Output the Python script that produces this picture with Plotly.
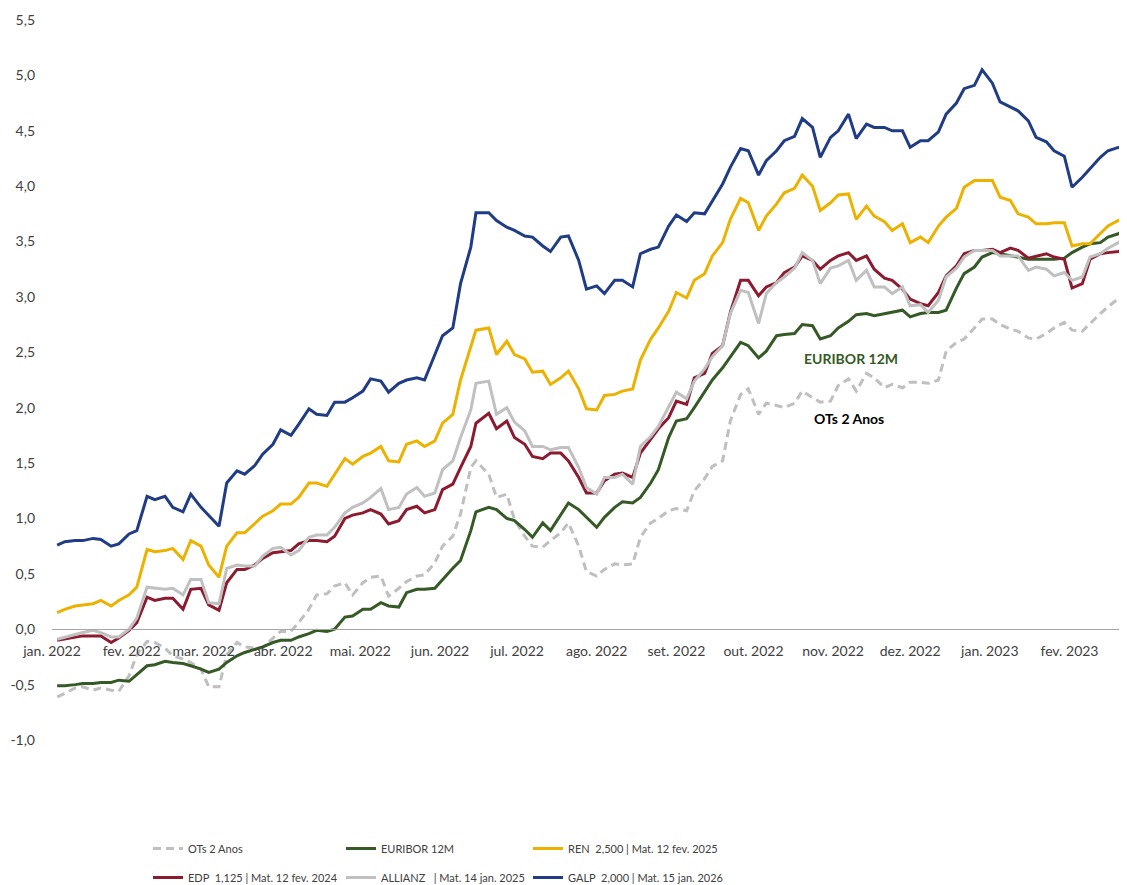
import plotly.graph_objects as go

# ---------------- data (~2 points per week) ----------------
dates = (
    ["2022-01-03", "2022-01-06", "2022-01-10", "2022-01-13", "2022-01-17", "2022-01-20", "2022-01-24", "2022-01-27", "2022-01-31"]
    + ["2022-02-03", "2022-02-07", "2022-02-10", "2022-02-14", "2022-02-17", "2022-02-21", "2022-02-24", "2022-02-28"]
    + ["2022-03-03", "2022-03-07", "2022-03-10", "2022-03-14", "2022-03-17", "2022-03-21", "2022-03-24", "2022-03-28", "2022-03-31"]
    + ["2022-04-04", "2022-04-07", "2022-04-11", "2022-04-14", "2022-04-18", "2022-04-21", "2022-04-25", "2022-04-28"]
    + ["2022-05-02", "2022-05-05", "2022-05-09", "2022-05-12", "2022-05-16", "2022-05-19", "2022-05-23", "2022-05-26", "2022-05-30"]
    + ["2022-06-02", "2022-06-06", "2022-06-09", "2022-06-13", "2022-06-15", "2022-06-20", "2022-06-23", "2022-06-27", "2022-06-30"]
    + ["2022-07-04", "2022-07-07", "2022-07-11", "2022-07-14", "2022-07-18", "2022-07-21", "2022-07-25", "2022-07-28"]
    + ["2022-08-01", "2022-08-04", "2022-08-08", "2022-08-11", "2022-08-15", "2022-08-18", "2022-08-22", "2022-08-25", "2022-08-29"]
    + ["2022-09-01", "2022-09-05", "2022-09-08", "2022-09-12", "2022-09-15", "2022-09-19", "2022-09-22", "2022-09-26", "2022-09-29"]
    + ["2022-10-03", "2022-10-06", "2022-10-10", "2022-10-13", "2022-10-17", "2022-10-20", "2022-10-24", "2022-10-27", "2022-10-31"]
    + ["2022-11-03", "2022-11-07", "2022-11-10", "2022-11-14", "2022-11-17", "2022-11-21", "2022-11-24", "2022-11-28"]
    + ["2022-12-01", "2022-12-05", "2022-12-08", "2022-12-12", "2022-12-15", "2022-12-19", "2022-12-22", "2022-12-26", "2022-12-29"]
    + ["2023-01-02", "2023-01-05", "2023-01-09", "2023-01-12", "2023-01-16", "2023-01-19", "2023-01-23", "2023-01-26", "2023-01-30"]
    + ["2023-02-02", "2023-02-06", "2023-02-09", "2023-02-13", "2023-02-16", "2023-02-20", "2023-02-23"]
)

ots_2_anos = (
    [-0.61, -0.58, -0.53, -0.52, -0.55, -0.53, -0.55, -0.56, -0.42]
    + [-0.23, -0.11, -0.12, -0.17, -0.24, -0.27, -0.30, -0.36]
    + [-0.52, -0.52, -0.23, -0.12, -0.16, -0.17, -0.17, -0.08, -0.02]
    + [-0.02, 0.06, 0.18, 0.31, 0.32, 0.39, 0.42, 0.31]
    + [0.42, 0.47, 0.48, 0.30, 0.37, 0.43, 0.48, 0.49, 0.60]
    + [0.75, 0.84, 1.04, 1.46, 1.52, 1.40, 1.19, 1.22, 0.99]
    + [0.84, 0.75, 0.74, 0.80, 0.87, 0.96, 0.75, 0.52]
    + [0.48, 0.54, 0.59, 0.58, 0.59, 0.83, 0.96, 1.00, 1.07]
    + [1.09, 1.07, 1.25, 1.36, 1.47, 1.52, 1.88, 2.12, 2.17]
    + [1.94, 2.04, 2.02, 2.00, 2.04, 2.15, 2.09, 2.05, 2.06]
    + [2.20, 2.26, 2.15, 2.31, 2.27, 2.18, 2.21, 2.18]
    + [2.23, 2.23, 2.22, 2.25, 2.51, 2.59, 2.62, 2.72, 2.80]
    + [2.80, 2.75, 2.71, 2.69, 2.63, 2.62, 2.67, 2.72, 2.77]
    + [2.70, 2.69, 2.76, 2.85, 2.91, 2.98, 3.04]
)

euribor_12m = (
    [-0.51, -0.51, -0.50, -0.49, -0.49, -0.48, -0.48, -0.46, -0.47]
    + [-0.41, -0.33, -0.32, -0.29, -0.30, -0.31, -0.33, -0.36]
    + [-0.39, -0.36, -0.30, -0.24, -0.21, -0.18, -0.16, -0.12, -0.10]
    + [-0.10, -0.07, -0.04, -0.01, -0.02, 0.00, 0.11, 0.12]
    + [0.18, 0.18, 0.24, 0.21, 0.20, 0.33, 0.36, 0.36, 0.37]
    + [0.45, 0.55, 0.62, 0.89, 1.06, 1.10, 1.08, 1.00, 0.98]
    + [0.90, 0.83, 0.96, 0.89, 1.04, 1.14, 1.08, 1.01]
    + [0.92, 1.01, 1.10, 1.15, 1.14, 1.19, 1.32, 1.44, 1.73]
    + [1.88, 1.90, 2.00, 2.15, 2.25, 2.36, 2.46, 2.59, 2.56]
    + [2.45, 2.51, 2.65, 2.66, 2.67, 2.75, 2.74, 2.62, 2.65]
    + [2.72, 2.78, 2.84, 2.85, 2.83, 2.85, 2.86, 2.88]
    + [2.82, 2.85, 2.86, 2.86, 2.88, 3.08, 3.21, 3.27, 3.36]
    + [3.40, 3.39, 3.37, 3.36, 3.34, 3.34, 3.34, 3.34, 3.35]
    + [3.40, 3.45, 3.48, 3.49, 3.54, 3.57, 3.62]
)

ren = (
    [0.15, 0.18, 0.21, 0.22, 0.23, 0.26, 0.21, 0.26, 0.31]
    + [0.38, 0.72, 0.70, 0.71, 0.73, 0.63, 0.80, 0.75]
    + [0.58, 0.47, 0.75, 0.87, 0.87, 0.96, 1.02, 1.07, 1.13]
    + [1.13, 1.19, 1.32, 1.32, 1.29, 1.40, 1.54, 1.49]
    + [1.56, 1.59, 1.65, 1.52, 1.51, 1.67, 1.70, 1.65, 1.70]
    + [1.86, 1.94, 2.25, 2.55, 2.70, 2.72, 2.48, 2.60, 2.48]
    + [2.44, 2.32, 2.33, 2.21, 2.27, 2.33, 2.17, 1.99]
    + [1.98, 2.11, 2.12, 2.15, 2.17, 2.43, 2.62, 2.72, 2.87]
    + [3.04, 2.99, 3.15, 3.21, 3.37, 3.49, 3.70, 3.89, 3.85]
    + [3.60, 3.73, 3.84, 3.94, 3.98, 4.10, 4.00, 3.78, 3.85]
    + [3.92, 3.93, 3.70, 3.82, 3.73, 3.68, 3.60, 3.66]
    + [3.49, 3.54, 3.49, 3.64, 3.72, 3.80, 3.99, 4.05, 4.05]
    + [4.05, 3.90, 3.87, 3.75, 3.72, 3.66, 3.66, 3.67, 3.67]
    + [3.46, 3.48, 3.48, 3.57, 3.64, 3.69, 3.66]
)

edp = (
    [-0.10, -0.09, -0.07, -0.06, -0.06, -0.06, -0.12, -0.08, -0.01]
    + [0.06, 0.29, 0.26, 0.28, 0.28, 0.18, 0.36, 0.37]
    + [0.22, 0.17, 0.42, 0.54, 0.54, 0.58, 0.64, 0.69, 0.70]
    + [0.71, 0.77, 0.80, 0.80, 0.79, 0.84, 1.00, 1.03]
    + [1.05, 1.08, 1.04, 0.95, 0.98, 1.08, 1.11, 1.05, 1.08]
    + [1.26, 1.31, 1.46, 1.65, 1.86, 1.95, 1.81, 1.88, 1.73]
    + [1.67, 1.56, 1.54, 1.59, 1.59, 1.52, 1.37, 1.23]
    + [1.23, 1.34, 1.40, 1.41, 1.37, 1.59, 1.71, 1.81, 1.91]
    + [2.06, 2.03, 2.27, 2.31, 2.49, 2.56, 2.86, 3.15, 3.15]
    + [3.01, 3.09, 3.13, 3.22, 3.27, 3.37, 3.33, 3.25, 3.33]
    + [3.37, 3.40, 3.33, 3.37, 3.25, 3.17, 3.15, 3.07]
    + [2.98, 2.94, 2.92, 3.04, 3.19, 3.28, 3.39, 3.42, 3.42]
    + [3.43, 3.40, 3.44, 3.42, 3.35, 3.37, 3.39, 3.36, 3.34]
    + [3.08, 3.12, 3.34, 3.39, 3.40, 3.41, 3.43]
)

allianz = (
    [-0.09, -0.07, -0.05, -0.03, -0.01, -0.03, -0.07, -0.07, 0.00]
    + [0.10, 0.38, 0.37, 0.36, 0.37, 0.31, 0.45, 0.45]
    + [0.24, 0.23, 0.55, 0.58, 0.57, 0.57, 0.66, 0.73, 0.74]
    + [0.67, 0.71, 0.83, 0.85, 0.85, 0.92, 1.05, 1.10]
    + [1.14, 1.19, 1.27, 1.08, 1.10, 1.22, 1.28, 1.20, 1.23]
    + [1.44, 1.52, 1.73, 1.98, 2.22, 2.24, 1.94, 2.00, 1.87]
    + [1.79, 1.65, 1.65, 1.62, 1.64, 1.64, 1.46, 1.28]
    + [1.22, 1.37, 1.37, 1.40, 1.31, 1.65, 1.74, 1.83, 2.00]
    + [2.14, 2.08, 2.24, 2.35, 2.46, 2.56, 2.85, 3.06, 3.04]
    + [2.76, 3.03, 3.13, 3.18, 3.26, 3.40, 3.33, 3.12, 3.26]
    + [3.28, 3.33, 3.15, 3.24, 3.09, 3.09, 3.03, 3.09]
    + [2.92, 2.93, 2.86, 2.97, 3.18, 3.26, 3.36, 3.42, 3.42]
    + [3.42, 3.37, 3.37, 3.37, 3.24, 3.27, 3.25, 3.19, 3.22]
    + [3.15, 3.18, 3.36, 3.39, 3.44, 3.49, 3.54]
)

galp = (
    [0.76, 0.79, 0.80, 0.80, 0.82, 0.81, 0.75, 0.77, 0.86]
    + [0.89, 1.20, 1.17, 1.20, 1.10, 1.06, 1.22, 1.10]
    + [1.03, 0.93, 1.32, 1.43, 1.40, 1.48, 1.58, 1.67, 1.80]
    + [1.75, 1.85, 1.99, 1.94, 1.93, 2.05, 2.05, 2.09]
    + [2.15, 2.26, 2.24, 2.14, 2.22, 2.25, 2.27, 2.25, 2.47]
    + [2.65, 2.72, 3.12, 3.45, 3.76, 3.76, 3.69, 3.63, 3.60]
    + [3.55, 3.54, 3.46, 3.41, 3.54, 3.55, 3.33, 3.07]
    + [3.10, 3.03, 3.15, 3.15, 3.09, 3.39, 3.43, 3.45, 3.64]
    + [3.74, 3.68, 3.76, 3.75, 3.87, 4.02, 4.17, 4.34, 4.32]
    + [4.10, 4.23, 4.32, 4.41, 4.45, 4.61, 4.53, 4.26, 4.44]
    + [4.50, 4.65, 4.43, 4.56, 4.53, 4.53, 4.50, 4.50]
    + [4.35, 4.41, 4.41, 4.49, 4.65, 4.75, 4.88, 4.91, 5.05]
    + [4.93, 4.76, 4.71, 4.68, 4.59, 4.44, 4.40, 4.32, 4.27]
    + [3.99, 4.08, 4.16, 4.26, 4.32, 4.35, 4.35]
)

month_ticks = [
    "2022-01-01", "2022-02-01", "2022-03-01", "2022-04-01", "2022-05-01",
    "2022-06-01", "2022-07-01", "2022-08-01", "2022-09-01", "2022-10-01",
    "2022-11-01", "2022-12-01", "2023-01-01", "2023-02-01",
]
month_labels = [
    "jan. 2022", "fev. 2022", "mar. 2022", "abr. 2022", "mai. 2022",
    "jun. 2022", "jul. 2022", "ago. 2022", "set. 2022", "out. 2022",
    "nov. 2022", "dez. 2022", "jan. 2023", "fev. 2023",
]

y_ticks = [-1.0, -0.5, 0.0, 0.5, 1.0, 1.5, 2.0, 2.5, 3.0, 3.5, 4.0, 4.5, 5.0, 5.5]
y_labels = ["-1,0", "-0,5", "0,0", "0,5", "1,0", "1,5", "2,0", "2,5",
            "3,0", "3,5", "4,0", "4,5", "5,0", "5,5"]

NB = "\u00a0"
series = [
    # name, values, colour, dash, legend
    ("OTs 2 Anos", ots_2_anos, "#BFBFBF", "8px,5px", "legend"),
    ("EURIBOR 12M", euribor_12m, "#355A25", "solid", "legend2"),
    ("REN" + NB * 2 + "2,500 | Mat. 12 fev. 2025", ren, "#EDB100", "solid", "legend3"),
    ("EDP" + NB * 2 + "1,125 | Mat. 12 fev. 2024", edp, "#8C1B2F", "solid", "legend"),
    ("ALLIANZ" + NB * 3 + "| Mat. 14 jan. 2025", allianz, "#C0C0C0", "solid", "legend2"),
    ("GALP" + NB * 2 + "2,000 | Mat. 15 jan. 2026", galp, "#1F3C84", "solid", "legend3"),
]

FONT = "Lato, 'Open Sans', sans-serif"

fig = go.Figure()
for i, (name, vals, color, dash, leg) in enumerate(series):
    fig.add_trace(go.Scatter(
        x=dates, y=vals, name=name, mode="lines",
        line=dict(color=color, width=3, dash=dash),
        legend=leg, legendgroup="g%d" % i,
        hoverinfo="skip",
    ))

fig.add_annotation(x="2022-11-08", y=2.44, text="<b>EURIBOR 12M</b>", showarrow=False,
                   font=dict(family=FONT, size=14, color="#355A25"))
fig.add_annotation(x="2022-11-07", y=1.90, text="<b>OTs 2 Anos</b>", showarrow=False,
                   font=dict(family=FONT, size=14, color="#000000"))

W, H = 1119, 877
legend_base = dict(
    orientation="v", xref="container", yref="container",
    xanchor="left", yanchor="top", y=1 - 826 / H,
    bgcolor="rgba(0,0,0,0)", borderwidth=0,
    traceorder="grouped", tracegroupgap=10,
    font=dict(family=FONT, size=11, color="#404040"),
)

fig.update_layout(
    width=W, height=H,
    margin=dict(l=44, r=1, t=12, b=145, autoexpand=False),
    plot_bgcolor="white", paper_bgcolor="white",
    separators=",.",
    font=dict(family=FONT, size=14, color="#404040"),
    showlegend=True,
    legend=dict(legend_base, x=140 / W),
    legend2=dict(legend_base, x=333 / W),
    legend3=dict(legend_base, x=520 / W),
    xaxis=dict(
        type="date", range=["2022-01-01", "2023-02-23"],
        tickvals=month_ticks, ticktext=month_labels, tickangle=0,
        showgrid=False, zeroline=False, showline=True,
        linecolor="#A6A6A6", linewidth=1, ticks="",
        anchor="free", position=1 / 6.5, ticklabelstandoff=9,
        tickfont=dict(family=FONT, size=14, color="#404040"),
    ),
    yaxis=dict(
        range=[-1, 5.5], tickvals=y_ticks, ticktext=y_labels,
        showgrid=False, zeroline=False, showline=False, ticks="",
        ticklabelstandoff=16,
        tickfont=dict(family=FONT, size=14, color="#404040"),
    ),
)

fig.write_html("out.html")
